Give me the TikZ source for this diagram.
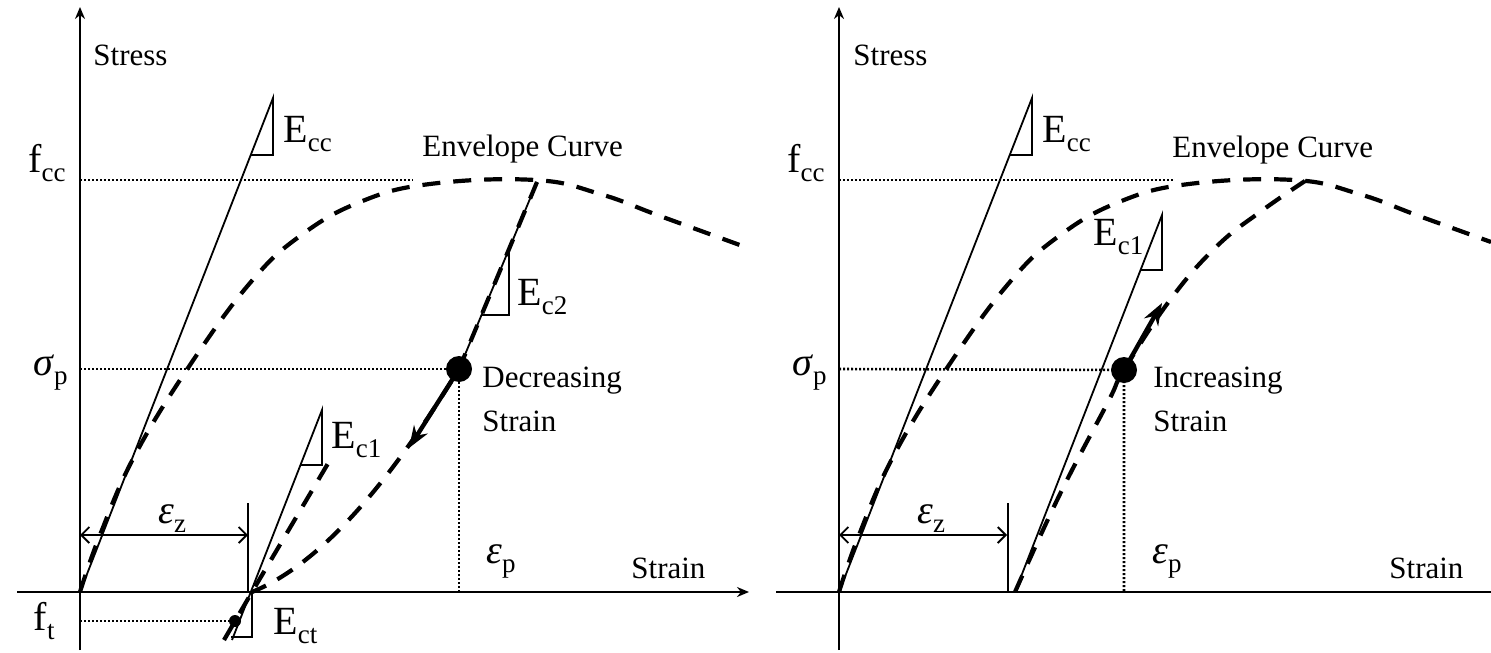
\documentclass[tikz,border=0pt]{standalone}
\usepackage{fontspec}
\setmainfont{Liberation Serif}
\usetikzlibrary{arrows.meta}
\newcommand{\lsub}[1]{\raisebox{-4.5pt}{\fontsize{13.5}{14}\selectfont\upshape #1}}
\tikzset{
	axisline/.style={line width=1pt},
	envcurve/.style={line width=2.1pt, dash pattern=on 9pt off 6.5pt},
	guide/.style={line width=1.3pt, dash pattern=on 1pt off 1pt},
	slope/.style={line width=0.9pt},
	word/.style={font=\fontsize{15.5}{18}\selectfont, inner sep=0pt},
	sym/.style={font=\fontsize{20}{24}\selectfont, inner sep=0pt},
	dir/.style={line width=2.2pt, -{Stealth[length=11pt,width=8pt]}},
	zspan/.style={slope, {Straight Barb[length=4pt,width=8pt]}-{Straight Barb[length=4pt,width=8pt]}},
}
\begin{document}
\begin{tikzpicture}[x=0.5pt,y=-0.5pt,>={Stealth[length=6pt,width=5pt]}]
	\useasboundingbox (0,0) rectangle (1491,652);
	% decreasing strain (pixel units, y downwards)
	\begin{scope}
		\coordinate (oL) at (80,592);
		\coordinate (zL) at (252,592);
		\coordinate (pL) at (459,369);
		\coordinate (kL) at (537,182);
		\coordinate (tL) at (235,621);
		\draw[axisline,->] (17,592) -- (749,592);
		\draw[axisline,->] (80,650) -- (80,7);
		\draw[guide] (80,180) -- (413,180);
		\draw[guide] (80,369) -- (pL) -- (459,592);
		\draw[guide] (80,621) -- (tL);
		\draw[slope] (oL) -- (273,98) -- (273,155) -- (251,155);
		\draw[slope] (232,640) -- (322,410) -- (322,465) -- (300,465);
		\draw[slope] (zL) -- (252,637) -- (231,637);
		\draw[slope] (pL) -- (kL);
		\draw[slope] (509,250) -- (509,315) -- (482,315);
		\draw[slope] (248,503) -- (248,592);
		\draw[zspan] (80,535) -- (248,535);
		\draw[envcurve] plot[smooth, tension=0.7] coordinates {(oL) (100,535) (135,455) (190,365) (250,283) (300,236) (360,202) (430,184) (535,180) (600,194) (660,216) (748,248)};
		\draw[envcurve] (kL) -- (pL) .. controls (400,465) and (330,560) .. (zL);
		\draw[envcurve] (224,640) -- (zL) -- (333,455);
		\fill (tL) circle[radius=3pt];
		\fill (pL) circle[radius=6.5pt];
		\draw[dir] (pL) -- (409,448);
		\node[word,anchor=base west] (stressL) at (93,66) {Stress};
		\node[word,anchor=base west] (strainL) at (631,578) {Strain};
		\node[word,anchor=base west] (envL) at (422,157) {Envelope Curve};
		\node[word,anchor=base west] (decrL) at (482,387) {Decreasing};
		\node[word,anchor=base west] (strL) at (482,431) {Strain};
		\node[sym,anchor=base east] (fccL) at (66,173) {f\lsub{cc}};
		\node[sym,anchor=base east] (sigmaL) at (68,375) {\textit{σ}\lsub{p}};
		\node[sym,anchor=base east] (ftL) at (55,630) {f\lsub{t}};
		\node[sym,anchor=base west] (EccL) at (283,143) {E\lsub{cc}};
		\node[sym,anchor=base west] (Ec1L) at (331,448) {E\lsub{c1}};
		\node[sym,anchor=base west] (Ec2L) at (517,305) {E\lsub{c2}};
		\node[sym,anchor=base west] (EctL) at (273,634) {E\lsub{ct}};
		\node[sym,anchor=base west] (epszL) at (158,523) {\textit{ε}\lsub{z}};
		\node[sym,anchor=base west] (epspL) at (486,563) {\textit{ε}\lsub{p}};
	\end{scope}
	% increasing strain
	\begin{scope}[shift={(759,0)}]
		\coordinate (oR) at (80,592);
		\coordinate (zR) at (256,592);
		\coordinate (pR) at (365,370);
		\coordinate (kR) at (546,181);
		\draw[axisline] (17,592) -- (732,592);
		\draw[axisline,->] (80,650) -- (80,7);
		\draw[guide] (80,180) -- (416,180);
		\draw[guide] (80,369) -- (pR) -- (365,592);
		\draw[slope] (oR) -- (273,98) -- (273,155) -- (251,155);
		\draw[slope] (zR) -- (403,215) -- (403,270) -- (382,270);
		\draw[slope] (249,503) -- (249,592);
		\draw[zspan] (80,535) -- (248,535);
		\draw[envcurve] plot[smooth, tension=0.7] coordinates {(oR) (100,535) (135,455) (190,365) (250,283) (300,236) (360,202) (430,184) (535,180) (600,194) (660,216) (732,242)};
		\draw[envcurve] plot[smooth, tension=0.7] coordinates {(zR) (301,494) (349,402) (pR) (411,300) (457,247) (501,212) (kR)};
		\fill (pR) circle[radius=6.5pt];
		\draw[dir] (pR) -- (403,303);
		\node[word,anchor=base west] (stressR) at (94,66) {Stress};
		\node[word,anchor=base west] (strainR) at (630,578) {Strain};
		\node[word,anchor=base west] (envR) at (413,158) {Envelope Curve};
		\node[word,anchor=base west] (incrR) at (394,387) {Increasing};
		\node[word,anchor=base west] (strR) at (394,431) {Strain};
		\node[sym,anchor=base east] (fccR) at (66,173) {f\lsub{cc}};
		\node[sym,anchor=base east] (sigmaR) at (68,375) {\textit{σ}\lsub{p}};
		\node[sym,anchor=base west] (EccR) at (283,143) {E\lsub{cc}};
		\node[sym,anchor=base west] (Ec1R) at (334,245) {E\lsub{c1}};
		\node[sym,anchor=base west] (epszR) at (158,523) {\textit{ε}\lsub{z}};
		\node[sym,anchor=base west] (epspR) at (393,563) {\textit{ε}\lsub{p}};
	\end{scope}
\end{tikzpicture}
\end{document}
